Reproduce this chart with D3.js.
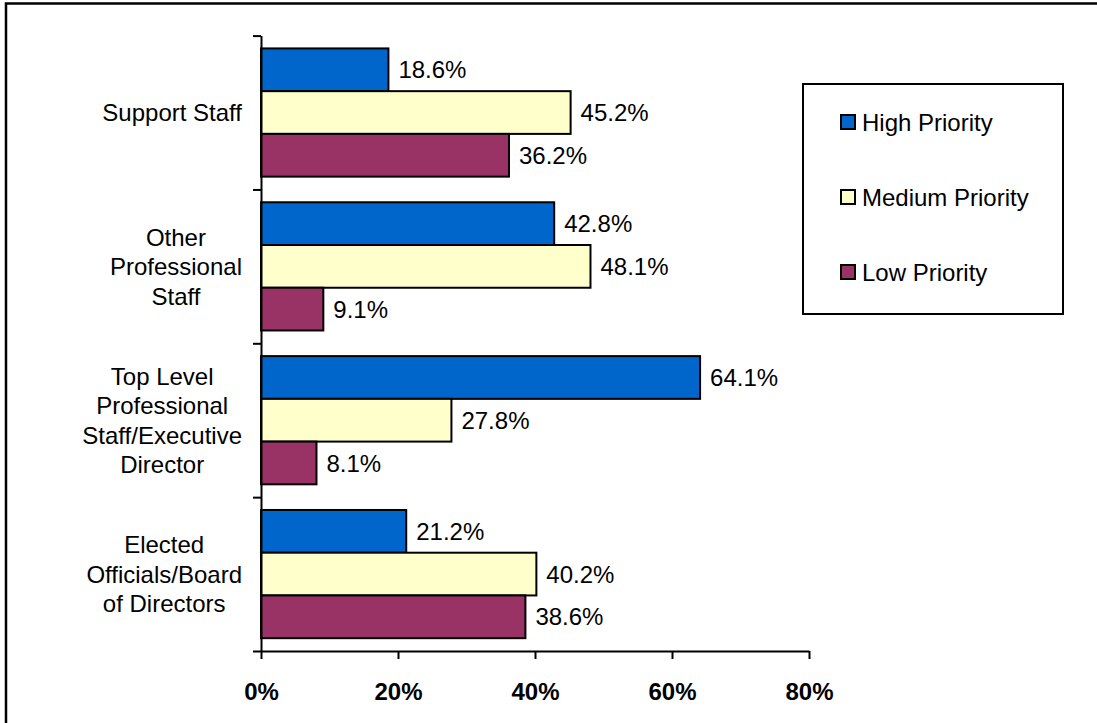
<!DOCTYPE html>
<html>
<head>
<meta charset="utf-8">
<script src="https://cdn.jsdelivr.net/npm/d3@7"></script>
<style>
  html, body { margin: 0; padding: 0; background: #fff; }
  svg { display: block; font-family: "Liberation Sans", Arial, sans-serif; }
</style>
</head>
<body>
<svg id="chart" width="1097" height="723"></svg>
<script>
// Staff groups (top to bottom)
const categories = [
  "Support Staff",
  "Other Professional Staff",
  "Top Level Professional Staff/Executive Director",
  "Elected Officials/Board of Directors"
];
// Wrapped lines for each category label
const categoryLines = [
  ["Support Staff"],
  ["Other", "Professional", "Staff"],
  ["Top Level", "Professional", "Staff/Executive", "Director"],
  ["Elected", "Officials/Board", "of Directors"]
];
const seriesNames = ["High Priority", "Medium Priority", "Low Priority"];
const highPriority   = [18.6, 42.8, 64.1, 21.2];
const mediumPriority = [45.2, 48.1, 27.8, 40.2];
const lowPriority    = [36.2,  9.1,  8.1, 38.6];
const xTicks = [0, 20, 40, 60, 80];
const seriesColors = ["#0066CC", "#FFFFCC", "#993366"];

const seriesValues = [highPriority, mediumPriority, lowPriority];
const rows = categories.map((c, i) => ({
  category: c,
  lines: categoryLines[i],
  values: seriesNames.map((s, j) => ({ series: s, value: seriesValues[j][i] }))
}));

const svg = d3.select("#chart");
const textSize = 24;

// Outer frame
svg.append("rect")
  .attr("x", 6).attr("y", 3.5)
  .attr("width", 1200).attr("height", 800)
  .attr("fill", "none").attr("stroke", "#000").attr("stroke-width", 2.5);

const plot = { left: 261, right: 809, top: 35.6, bottom: 651 };

const x = d3.scaleLinear().domain([0, 80]).range([plot.left, plot.right]);
const y = d3.scaleBand().domain(categories).range([plot.top, plot.bottom]).padding(0);
const ySub = d3.scaleBand().domain(seriesNames).range([0, y.bandwidth()])
  .paddingInner(0).paddingOuter(0.3);
const color = d3.scaleOrdinal().domain(seriesNames).range(seriesColors);

// Bars
const groups = svg.append("g").selectAll("g")
  .data(rows).join("g")
  .attr("transform", d => `translate(0,${y(d.category)})`);

groups.selectAll("rect")
  .data(d => d.values).join("rect")
  .attr("x", x(0))
  .attr("y", d => ySub(d.series))
  .attr("width", d => x(d.value) - x(0))
  .attr("height", ySub.bandwidth())
  .attr("fill", d => color(d.series))
  .attr("stroke", "#000").attr("stroke-width", 2);

// Value labels
groups.selectAll("text.val")
  .data(d => d.values).join("text")
  .attr("class", "val")
  .attr("x", d => x(d.value) + 10)
  .attr("y", d => ySub(d.series) + ySub.bandwidth() / 2)
  .attr("dy", "0.36em")
  .attr("font-size", textSize)
  .attr("fill", "#000")
  .text(d => d.value.toFixed(1) + "%");

// Category axis: ticks sit on the band boundaries
const yEdges = d3.scaleLinear().domain([0, categories.length]).range([plot.top, plot.bottom]);
const yAxis = svg.append("g")
  .attr("transform", `translate(${plot.left},0)`)
  .call(d3.axisLeft(yEdges).tickValues(d3.range(categories.length + 1))
    .tickFormat("").tickSizeInner(8).tickSizeOuter(0));
yAxis.select(".domain").attr("stroke", "#000").attr("stroke-width", 2);
yAxis.selectAll(".tick line").attr("stroke", "#000").attr("stroke-width", 2);

// Category labels: block right-aligned, lines centred inside the block
const lineH = 29.5;
const labelRight = 242;
const labelG = svg.append("g").attr("font-size", textSize).attr("fill", "#000");
rows.forEach(r => {
  const tmp = labelG.append("g");
  const texts = r.lines.map(l => tmp.append("text").text(l));
  const maxW = d3.max(texts, t => t.node().getComputedTextLength());
  const cx = labelRight - maxW / 2;
  const cy = y(r.category) + y.bandwidth() / 2;
  const n = r.lines.length;
  texts.forEach((t, i) => {
    t.attr("x", cx)
     .attr("y", cy + (i - (n - 1) / 2) * lineH)
     .attr("dy", "0.36em")
     .attr("text-anchor", "middle");
  });
});

// Value axis
const xAxis = svg.append("g")
  .attr("transform", `translate(0,${plot.bottom})`)
  .call(d3.axisBottom(x).tickValues(xTicks)
    .tickFormat(d => d + "%").tickSizeInner(8).tickSizeOuter(0).tickPadding(0));
xAxis.select(".domain").attr("stroke", "#000").attr("stroke-width", 2);
xAxis.selectAll(".tick line").attr("stroke", "#000").attr("stroke-width", 2);
xAxis.selectAll(".tick text")
  .attr("y", 49).attr("dy", 0)
  .attr("font-family", "\"Liberation Sans\", Arial, sans-serif")
  .attr("font-size", 24).attr("font-weight", "bold").attr("fill", "#000");

// Legend
const legend = svg.append("g");
legend.append("rect")
  .attr("x", 803).attr("y", 84).attr("width", 260).attr("height", 230)
  .attr("fill", "#fff").attr("stroke", "#000").attr("stroke-width", 2);
const legendY = d3.scalePoint().domain(seriesNames).range([122, 272]);
const items = legend.selectAll("g.item").data(seriesNames).join("g")
  .attr("class", "item")
  .attr("transform", d => `translate(841,${legendY(d)})`);
items.append("rect")
  .attr("x", 0).attr("y", -7).attr("width", 14).attr("height", 14)
  .attr("fill", d => color(d)).attr("stroke", "#000").attr("stroke-width", 2);
items.append("text")
  .attr("x", 21).attr("dy", "0.36em")
  .attr("font-size", textSize).attr("fill", "#000")
  .text(d => d);
</script>
</body>
</html>
